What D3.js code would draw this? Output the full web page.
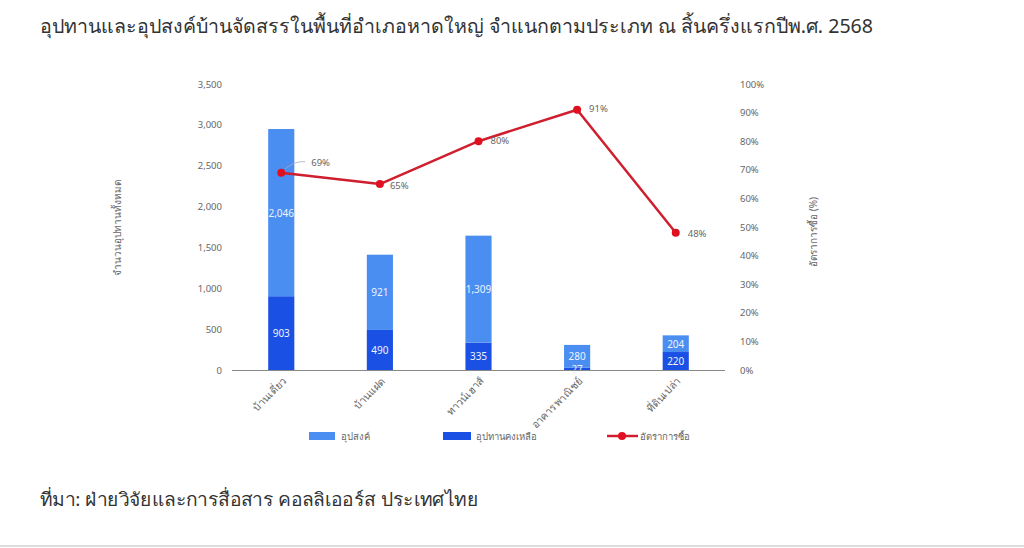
<!DOCTYPE html>
<html>
<head>
<meta charset="utf-8">
<script src="https://cdn.jsdelivr.net/npm/d3@7"></script>
<style>
  html, body { margin: 0; padding: 0; background: #fff; }
  svg { display: block; font-family: "Noto Sans", "Noto Sans CJK SC", sans-serif; }
</style>
</head>
<body>
<svg id="chart" width="1024" height="548"></svg>
<script>
// Housing supply / demand by type, Hat Yai, H1 2568
const categories = ["บ้านเดี่ยว", "บ้านแฝด", "ทาวน์เฮาส์", "อาคารพาณิชย์", "ที่ดินเปล่า"];
const remainingSupply = [903, 490, 335, 27, 220];     // อุปทานคงเหลือ
const demand = [2046, 921, 1309, 280, 204];           // อุปสงค์
const purchaseRate = [69, 65, 80, 91, 48];            // อัตราการซื้อ (%)
const leftTicks = [0, 500, 1000, 1500, 2000, 2500, 3000, 3500];
const rightTicks = [0, 10, 20, 30, 40, 50, 60, 70, 80, 90, 100];

const colors = { demand: "#4b8ef1", supply: "#1b50e4", rate: "#cf1f2e", axis: "#888", text: "#666" };

const svg = d3.select("#chart");

const plot = { left: 232, right: 725, top: 84, bottom: 370 };

const x = d3.scaleBand().domain(categories).range([plot.left, plot.right]).paddingInner(0.735).paddingOuter(0.367);
const y = d3.scaleLinear().domain([0, 3500]).range([plot.bottom, plot.top]);
const yR = d3.scaleLinear().domain([0, 100]).range([plot.bottom, plot.top]);

// Title
svg.append("text")
  .attr("x", 40).attr("y", 33)
  .attr("font-size", 19.6).attr("fill", "#333")
  .attr("textLength", 833).attr("lengthAdjust", "spacingAndGlyphs")
  .text("อุปทานและอุปสงค์บ้านจัดสรรในพื้นที่อำเภอหาดใหญ่ จำแนกตามประเภท ณ สิ้นครึ่งแรกปีพ.ศ. 2568");

// Left axis labels
const leftAxis = d3.axisLeft(y).tickValues(leftTicks).tickSize(0).tickPadding(10).tickFormat(d3.format(","));
const gL = svg.append("g").attr("transform", `translate(${plot.left},0)`).call(leftAxis);
gL.select(".domain").remove();
gL.selectAll("text").attr("font-size", 9.5).attr("fill", colors.text).attr("font-family", "Noto Sans, sans-serif");

// Right axis labels
const rightAxis = d3.axisRight(yR).tickValues(rightTicks).tickSize(0).tickPadding(15).tickFormat(d => d + "%");
const gR = svg.append("g").attr("transform", `translate(${plot.right},0)`).call(rightAxis);
gR.select(".domain").remove();
gR.selectAll("text").attr("font-size", 9.5).attr("fill", colors.text).attr("font-family", "Noto Sans, sans-serif");

// Axis titles
svg.append("text")
  .attr("transform", `translate(121,228) rotate(-90)`)
  .attr("text-anchor", "middle").attr("font-size", 10).attr("fill", colors.text)
  .text("จำนวนอุปทานทั้งหมด");
svg.append("text")
  .attr("transform", `translate(817,232) rotate(-90)`)
  .attr("text-anchor", "middle").attr("font-size", 10).attr("fill", colors.text)
  .text("อัตราการซื้อ (%)");

// Stacked bars
const rows = categories.map((c, i) => ({ cat: c, supply: remainingSupply[i], demand: demand[i] }));
const stack = d3.stack().keys(["supply", "demand"])(rows);
const fill = { supply: colors.supply, demand: colors.demand };

const layers = svg.append("g").selectAll("g").data(stack).join("g").attr("fill", d => fill[d.key]);
layers.selectAll("rect").data(d => d).join("rect")
  .attr("x", d => x(d.data.cat))
  .attr("width", x.bandwidth())
  .attr("y", d => y(d[1]))
  .attr("height", d => y(d[0]) - y(d[1]));

// Segment value labels
stack.forEach(layer => {
  svg.append("g").selectAll("text").data(layer).join("text")
    .attr("x", d => x(d.data.cat) + x.bandwidth() / 2)
    .attr("y", d => {
      const mid = (y(d[0]) + y(d[1])) / 2 + 4;
      return Math.min(mid, plot.bottom + 4);
    })
    .attr("text-anchor", "middle")
    .attr("font-size", 10).attr("fill", "#eef3ff")
    .text(d => d3.format(",")(d.data[layer.key]));
});

// Baseline
svg.append("line")
  .attr("x1", plot.left).attr("x2", plot.right)
  .attr("y1", plot.bottom + 0.5).attr("y2", plot.bottom + 0.5)
  .attr("stroke", colors.axis).attr("stroke-width", 1.2);

// Category labels
svg.append("g").selectAll("text").data(categories).join("text")
  .attr("transform", d => `translate(${x(d) + x.bandwidth() / 2 + 6},${plot.bottom + 12}) rotate(-45)`)
  .attr("text-anchor", "end")
  .attr("font-size", 10.5).attr("fill", colors.text)
  .text(d => d);

// Purchase rate line
const cx = (c) => x(c) + x.bandwidth() / 2;
const line = d3.line().x((d, i) => cx(categories[i])).y(d => yR(d));
svg.append("path")
  .datum(purchaseRate)
  .attr("d", line)
  .attr("fill", "none").attr("stroke", colors.rate).attr("stroke-width", 2.5)
  .attr("stroke-linejoin", "round");

svg.append("g").selectAll("circle").data(purchaseRate).join("circle")
  .attr("cx", (d, i) => cx(categories[i]))
  .attr("cy", d => yR(d))
  .attr("r", 4)
  .attr("fill", "#e01020");

// Leader line for the first rate label
svg.append("path")
  .attr("d", `M${cx(categories[0]) + 4},${yR(purchaseRate[0]) - 4} Q${cx(categories[0]) + 14},${yR(purchaseRate[0]) - 12} ${cx(categories[0]) + 24},${yR(purchaseRate[0]) - 11}`)
  .attr("fill", "none").attr("stroke", "#aab").attr("stroke-width", 0.8);

const labelOffsets = [[30, -7], [10, 5], [12, 3], [12, 2], [12, 4]];
svg.append("g").selectAll("text").data(purchaseRate).join("text")
  .attr("x", (d, i) => cx(categories[i]) + labelOffsets[i][0])
  .attr("y", (d, i) => yR(d) + labelOffsets[i][1])
  .attr("font-size", 9.5).attr("fill", colors.text)
  .text(d => d + "%");

// Legend
const legend = svg.append("g");
legend.append("rect").attr("x", 309).attr("y", 432).attr("width", 26).attr("height", 8).attr("fill", colors.demand);
legend.append("text").attr("x", 341).attr("y", 440).attr("font-size", 9.5).attr("fill", colors.text).text("อุปสงค์");
legend.append("rect").attr("x", 443).attr("y", 432).attr("width", 28).attr("height", 8).attr("fill", colors.supply);
legend.append("text").attr("x", 476).attr("y", 440).attr("font-size", 9.5).attr("fill", colors.text).text("อุปทานคงเหลือ");
legend.append("line").attr("x1", 607).attr("x2", 638).attr("y1", 436).attr("y2", 436).attr("stroke", colors.rate).attr("stroke-width", 2.5);
legend.append("circle").attr("cx", 622).attr("cy", 436).attr("r", 4).attr("fill", "#e01020");
legend.append("text").attr("x", 640).attr("y", 440).attr("font-size", 9.5).attr("fill", colors.text).text("อัตราการซื้อ");

// Source
svg.append("text")
  .attr("x", 40).attr("y", 506)
  .attr("font-size", 18.5).attr("fill", "#333")
  .attr("textLength", 438).attr("lengthAdjust", "spacingAndGlyphs")
  .text("ที่มา: ฝ่ายวิจัยและการสื่อสาร คอลลิเออร์ส ประเทศไทย");

// Bottom rule
svg.append("line")
  .attr("x1", 0).attr("x2", 1024).attr("y1", 546).attr("y2", 546)
  .attr("stroke", "#ddd").attr("stroke-width", 2);
</script>
</body>
</html>
